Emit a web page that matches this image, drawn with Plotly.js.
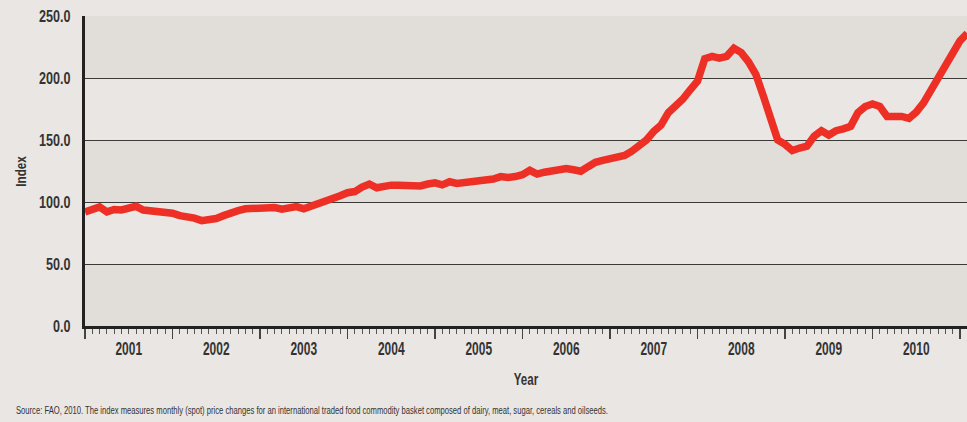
<!DOCTYPE html>
<html>
<head>
<meta charset="utf-8">
<script src="https://cdn.plot.ly/plotly-3.0.1.min.js"></script>
<style>
html,body{margin:0;padding:0;background:#e9e6e3;}
#chart{width:967px;height:422px;}
</style>
</head>
<body>
<div id="chart"></div>
<script>
// Monthly FAO food price index, Jan 2001 onward
const startYear = 2001;
const indexValues = [
  // 2001
  92, 94, 96, 92, 94, 93.6, 95, 96.5, 93.5, 93, 93, 93,
  // 2002
  91, 89, 88.5, 87, 85, 85.5, 86.7, 89, 91.5, 93, 94.5, 95,
  // 2003
  95, 96.3, 95.5, 94.2, 95.5, 96.3, 94.5, 96.5, 98, 99.5, 102, 105,
  // 2004
  107.5, 108.4, 112, 114.5, 111.5, 113.2, 113.6, 113.5, 113.3, 113.2, 113, 114.5,
  // 2005
  115.5, 113.8, 116.3, 115, 115.5, 116.5, 116.6, 116.8, 118.5, 120.5, 119.7, 120.5,
  // 2006
  122, 125.5, 122.5, 124, 124.7, 125, 127, 126, 124.8, 128.5, 132, 133.5,
  // 2007
  134.5, 135.5, 137.5, 141, 146, 150, 157, 162, 172, 177, 183, 190.5,
  // 2008
  197.5, 215.5, 217.4, 216, 217.5, 224, 220.5, 213, 203, 186, 166, 150,
  // 2009
  146.5, 141.5, 143.5, 145, 153, 157.4, 154, 157.5, 159, 161, 172, 177,
  // 2010
  179, 177, 169, 169.5, 169, 167.5, 172.5, 180, 190, 201, 211.5, 221,
  // 2011
  230, 236
];
const years = ["2001","2002","2003","2004","2005","2006","2007","2008","2009","2010"];
const yTicks = [0, 50, 100, 150, 200, 250];
const bandRanges = [[0, 50], [100, 150], [200, 250]];
const xTitle = "Year";
const yTitle = "Index";
const sourceText = "Source: FAO, 2010. The index measures monthly (spot) price changes for an international traded food commodity basket composed of dairy, meat, sugar, cereals and oilseeds.";

const xMonths = indexValues.map((v, i) => startYear + i / 12);
const yearCenters = years.map(y => Number(y) + 0.5);

const FONT = '"Liberation Sans", Arial, sans-serif';
const TXT = '#333333';
const BG = '#e9e6e3';
const BAND = '#e1ddd9';
const xRange = [2001, 2011.08];

const traces = [{
  x: xMonths,
  y: indexValues,
  type: 'scatter',
  mode: 'lines',
  line: {color: '#ee2f25', width: 7.5, shape: 'linear'},
  hoverinfo: 'skip'
}, {
  x: yearCenters,
  y: yearCenters.map(() => null),
  xaxis: 'x2',
  type: 'scatter',
  mode: 'markers',
  showlegend: false,
  hoverinfo: 'skip'
}];

const shapes = bandRanges.map(r => ({
  type: 'rect', xref: 'paper', yref: 'y', x0: 0, x1: 1, y0: r[0], y1: r[1],
  fillcolor: BAND, line: {width: 0}, layer: 'below'
}));

const layout = {
  width: 967, height: 422,
  paper_bgcolor: BG, plot_bgcolor: BG,
  margin: {l: 85, r: 0, t: 16, b: 96, pad: 0},
  showlegend: false,
  font: {family: FONT, color: TXT},
  shapes: shapes,
  xaxis: {
    range: xRange, type: 'linear',
    tick0: 2001, dtick: 1,
    ticks: 'outside', ticklen: 10, tickwidth: 1.5, tickcolor: '#444',
    minor: {tick0: 2001, dtick: 1/12, ticks: 'outside', ticklen: 5, tickwidth: 1, tickcolor: '#555', showgrid: false},
    showticklabels: false, showgrid: false, zeroline: false,
    showline: true, linecolor: '#222', linewidth: 2.5,
    fixedrange: true
  },
  xaxis2: {
    overlaying: 'x', matches: 'x', side: 'bottom', range: xRange,
    tickvals: yearCenters, ticktext: years,
    ticks: '', showgrid: false, zeroline: false, showline: false,
    tickfont: {size: 19, family: FONT, color: TXT, weight: 'bold'},
    ticklabelstandoff: 9
  },
  yaxis: {
    range: [0, 250], tickvals: yTicks, tickformat: '.1f',
    ticks: '', showgrid: true, gridcolor: '#3a3a3a', gridwidth: 1,
    zeroline: false, showline: true, linecolor: '#222', linewidth: 3,
    tickfont: {size: 17, family: FONT, color: TXT, weight: 'bold'},
    ticklabelstandoff: 8,
    fixedrange: true
  },
  annotations: [{
    text: xTitle, xref: 'paper', yref: 'paper', x: 0.5, y: 0, yshift: -53,
    xanchor: 'center', yanchor: 'middle', showarrow: false,
    font: {size: 17, family: FONT, color: TXT, weight: 'bold'}
  }, {
    text: yTitle, xref: 'paper', yref: 'paper', x: 0, xshift: -65, y: 0.5,
    xanchor: 'center', yanchor: 'middle', textangle: -90, showarrow: false,
    font: {size: 15, family: FONT, color: TXT, weight: 'bold'}
  }, {
    text: sourceText, xref: 'paper', yref: 'paper',
    x: 0, xshift: -71, y: 0, yshift: -84, xanchor: 'left', yanchor: 'middle',
    showarrow: false,
    font: {size: 10, family: FONT, color: TXT}
  }]
};

// Squeeze glyphs horizontally to imitate the condensed typeface of the original
function squeeze(el, target, keepLeft) {
  const len = el.getComputedTextLength();
  if (!len) return;
  el.setAttribute('textLength', target(len));
  el.setAttribute('lengthAdjust', 'spacingAndGlyphs');
  if (keepLeft) {
    const x = parseFloat(el.getAttribute('x') || '0');
    el.setAttribute('x', x - (len - target(len)) / 2);
  }
}

Plotly.newPlot('chart', traces, layout, {staticPlot: true, displayModeBar: false}).then(() => {
  document.querySelectorAll('#chart .x2tick text').forEach(el => squeeze(el, l => l * 0.63));
  document.querySelectorAll('#chart .ytick text').forEach(el => squeeze(el, l => l * 0.74));
  document.querySelectorAll('#chart .annotation-text').forEach(el => {
    const t = el.textContent;
    if (t === yTitle) squeeze(el, l => l * 0.78);
    else if (t === xTitle) squeeze(el, l => l * 0.68);
    else squeeze(el, l => 592, true);
  });
});
</script>
</body>
</html>
